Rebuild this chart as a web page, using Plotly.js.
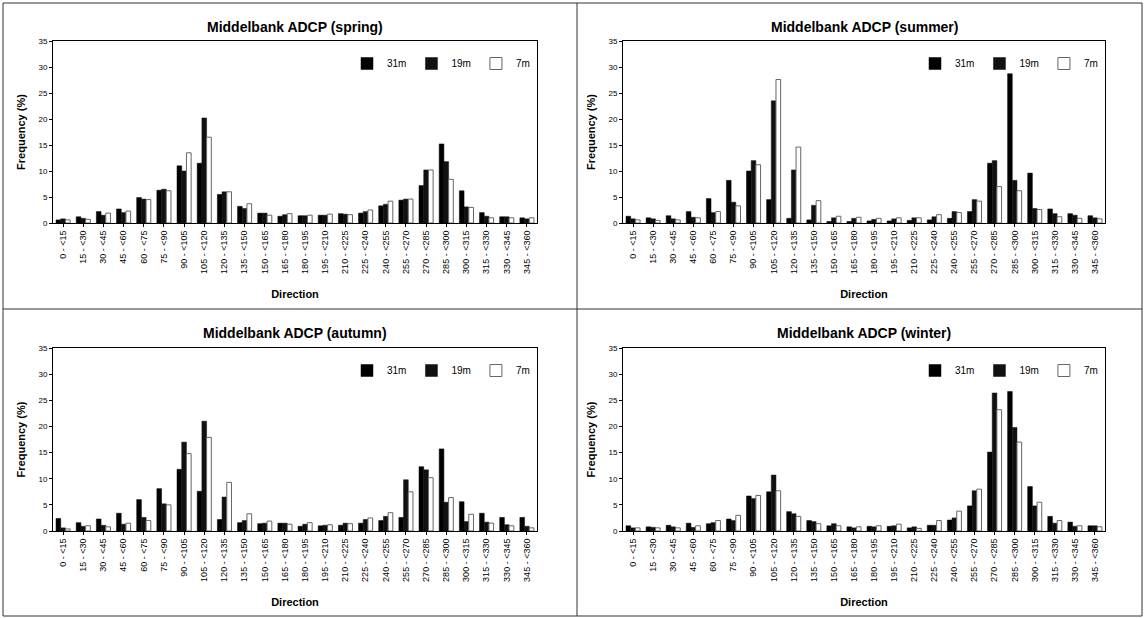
<!DOCTYPE html>
<html>
<head>
<meta charset="utf-8">
<script src="https://cdn.plot.ly/plotly-3.0.1.min.js"></script>
<style>
  html, body { margin: 0; padding: 0; background: #fff; }
  #chart { width: 1144px; height: 618px; }
</style>
</head>
<body>
<div id="chart"></div>
<script>
// Direction sectors (degrees)
const directions = [
  "0 - <15", "15 - <30", "30 - <45", "45 - <60", "60 - <75", "75 - <90",
  "90 - <105", "105 - <120", "120 - <135", "135 - <150", "150 - <165", "165 - <180",
  "180 - <195", "195 - <210", "210 - <225", "225 - <240", "240 - <255", "255 - <270",
  "270 - <285", "285 - <300", "300 - <315", "315 - <330", "330 - <345", "345 - <360"
];

const depths = ["31m", "19m", "7m"];

// Frequency (%) per sector, spring
const spring31 = [0.6, 1.2, 2.2, 2.7, 4.9, 6.3, 11.0, 11.5, 5.5, 3.2, 1.9, 1.3, 1.4, 1.5, 1.8, 1.9, 3.3, 4.4, 7.2, 15.2, 6.2, 2.0, 1.2, 1.0];
const spring19 = [0.8, 0.9, 1.5, 2.0, 4.6, 6.5, 10.0, 20.2, 6.0, 2.8, 1.9, 1.6, 1.4, 1.5, 1.7, 2.2, 3.6, 4.6, 10.2, 11.8, 3.1, 1.3, 1.2, 0.8];
const spring7  = [0.6, 0.7, 1.9, 2.3, 4.5, 6.2, 13.5, 16.5, 6.0, 3.7, 1.5, 1.8, 1.5, 1.7, 1.6, 2.5, 4.2, 4.6, 10.2, 8.4, 3.0, 1.0, 1.0, 1.0];

// Frequency (%) per sector, summer
const summer31 = [1.3, 1.0, 1.4, 2.2, 4.7, 8.2, 10.0, 4.5, 0.9, 0.6, 0.3, 0.3, 0.4, 0.4, 0.5, 0.6, 0.9, 2.2, 11.5, 28.7, 9.6, 2.7, 1.8, 1.4];
const summer19 = [0.8, 0.8, 0.8, 1.1, 2.0, 4.0, 12.0, 23.5, 10.2, 3.4, 1.0, 0.9, 0.7, 0.8, 1.0, 1.2, 2.2, 4.5, 12.0, 8.2, 2.8, 1.8, 1.5, 1.0];
const summer7  = [0.6, 0.5, 0.6, 1.0, 2.2, 3.3, 11.2, 27.6, 14.6, 4.3, 1.3, 1.1, 0.9, 1.0, 1.0, 1.6, 2.0, 4.2, 7.0, 6.2, 2.6, 1.2, 0.9, 0.8];

// Frequency (%) per sector, autumn
const autumn31 = [2.4, 1.6, 2.3, 3.4, 6.0, 8.1, 11.8, 7.6, 2.2, 1.6, 1.4, 1.5, 0.9, 1.0, 1.1, 1.5, 2.0, 2.6, 12.3, 15.7, 5.6, 3.4, 2.6, 2.6];
const autumn19 = [0.6, 0.9, 1.1, 1.3, 2.6, 5.2, 17.0, 21.0, 6.5, 2.0, 1.5, 1.5, 1.3, 1.1, 1.5, 2.2, 2.8, 9.8, 11.7, 5.5, 1.8, 1.7, 1.2, 0.9];
const autumn7  = [0.4, 1.0, 0.8, 1.5, 2.0, 5.0, 14.8, 17.9, 9.3, 3.3, 1.9, 1.3, 1.6, 1.2, 1.4, 2.5, 3.5, 7.5, 10.2, 6.4, 3.2, 1.5, 1.0, 0.6];

// Frequency (%) per sector, winter
const winter31 = [1.0, 0.8, 1.1, 1.5, 1.4, 2.3, 6.7, 7.5, 3.7, 2.0, 1.0, 0.8, 0.9, 0.9, 0.6, 1.1, 2.1, 4.8, 15.1, 26.7, 8.5, 2.8, 1.7, 1.0];
const winter19 = [0.6, 0.7, 0.8, 0.7, 1.6, 2.0, 6.2, 10.7, 3.3, 1.8, 1.4, 0.6, 0.8, 1.0, 0.8, 1.1, 2.5, 7.7, 26.4, 19.8, 4.8, 1.5, 0.9, 1.0];
const winter7  = [0.6, 0.6, 0.6, 1.0, 2.0, 3.0, 6.8, 7.7, 2.8, 1.4, 1.0, 0.8, 1.0, 1.3, 0.5, 2.0, 3.8, 8.0, 23.2, 17.0, 5.5, 2.0, 1.0, 0.8];

const seasons = [
  { name: "spring", series: [spring31, spring19, spring7] },
  { name: "summer", series: [summer31, summer19, summer7] },
  { name: "autumn", series: [autumn31, autumn19, autumn7] },
  { name: "winter", series: [winter31, winter19, winter7] }
];

const yTicks = [0, 5, 10, 15, 20, 25, 30, 35];

// Bar styles per depth
const barStyle = [
  { color: "#000000", line: { color: "#000000", width: 0.5 } },
  { color: "#111111", line: { color: "#111111", width: 0.5 } },
  { color: "#ffffff", line: { color: "#666666", width: 1 } }
];

const W = 1144, H = 618;
const px = (x) => x / W;
const py = (y) => 1 - y / H;

// Plot area boxes in pixels: [left, right, top, bottom]
const boxes = [
  [53, 537, 41, 223],
  [623, 1105, 41, 223],
  [53, 537, 348, 531],
  [623, 1105, 348, 531]
];
const titleY = [27, 27, 333, 333];

const font = "Arial, 'Liberation Sans', sans-serif";
const traces = [];
const layout = {
  width: W, height: H,
  margin: { l: 0, r: 0, t: 0, b: 0 },
  paper_bgcolor: "#ffffff",
  plot_bgcolor: "#ffffff",
  font: { family: font, color: "#000", size: 8 },
  barmode: "group",
  bargap: 0.3,
  bargroupgap: 0,
  annotations: [],
  shapes: []
};

seasons.forEach((s, i) => {
  const n = i + 1;
  const xa = n === 1 ? "x" : "x" + n;
  const ya = n === 1 ? "y" : "y" + n;
  const lg = n === 1 ? "legend" : "legend" + n;
  const [l, r, t, b] = boxes[i];

  s.series.forEach((vals, k) => {
    traces.push({
      type: "bar",
      name: depths[k],
      x: directions,
      y: vals,
      xaxis: xa,
      yaxis: ya,
      legend: lg,
      marker: barStyle[k],
      hovertemplate: "%{x}: %{y}%<extra>" + depths[k] + "</extra>"
    });
  });

  layout[(n === 1 ? "xaxis" : "xaxis" + n)] = {
    domain: [px(l), px(r)],
    anchor: ya,
    type: "category",
    tickangle: -90,
    tickfont: { size: 9, family: font },
    ticks: "outside", ticklen: 3, tickcolor: "#000",
    showline: true, linecolor: "#000", linewidth: 1, mirror: true,
    showgrid: false, zeroline: false,
    title: { text: "<b>Direction</b>", font: { size: 11, family: font }, standoff: 17 }
  };
  layout[(n === 1 ? "yaxis" : "yaxis" + n)] = {
    domain: [py(b), py(t)],
    anchor: xa,
    range: [0, 35],
    tickvals: yTicks,
    tickfont: { size: 8, family: font },
    ticks: "outside", ticklen: 3, tickcolor: "#000",
    showline: true, linecolor: "#000", linewidth: 1, mirror: true,
    showgrid: false, zeroline: false,
    title: { text: "<b>Frequency (%)</b>", font: { size: 11, family: font }, standoff: 10 }
  };
  layout[lg] = {
    orientation: "h",
    x: px(r - 2), xanchor: "right",
    y: py(t + 8), yanchor: "top",
    bgcolor: "rgba(0,0,0,0)",
    font: { size: 10, family: font },
    itemwidth: 30,
    tracegroupgap: 0
  };
  layout.annotations.push({
    xref: "paper", yref: "paper",
    x: px((l + r) / 2), y: py(titleY[i]),
    xanchor: "center", yanchor: "middle",
    text: "<b>Middelbank ADCP (" + s.name + ")</b>",
    showarrow: false,
    font: { size: 14, family: font }
  });
});

// Panel frame and dividers
const frameLine = { color: "#333", width: 1 };
[
  [3, 3, 1142, 3],
  [3, 309, 1142, 309],
  [3, 616, 1142, 616],
  [3, 3, 3, 616],
  [577, 3, 577, 616],
  [1142, 3, 1142, 616]
].forEach(([x0, y0, x1, y1]) => {
  layout.shapes.push({
    type: "line", xref: "paper", yref: "paper",
    x0: px(x0), y0: py(y0), x1: px(x1), y1: py(y1),
    line: frameLine
  });
});

Plotly.newPlot("chart", traces, layout, { displayModeBar: false, responsive: false });
</script>
</body>
</html>
